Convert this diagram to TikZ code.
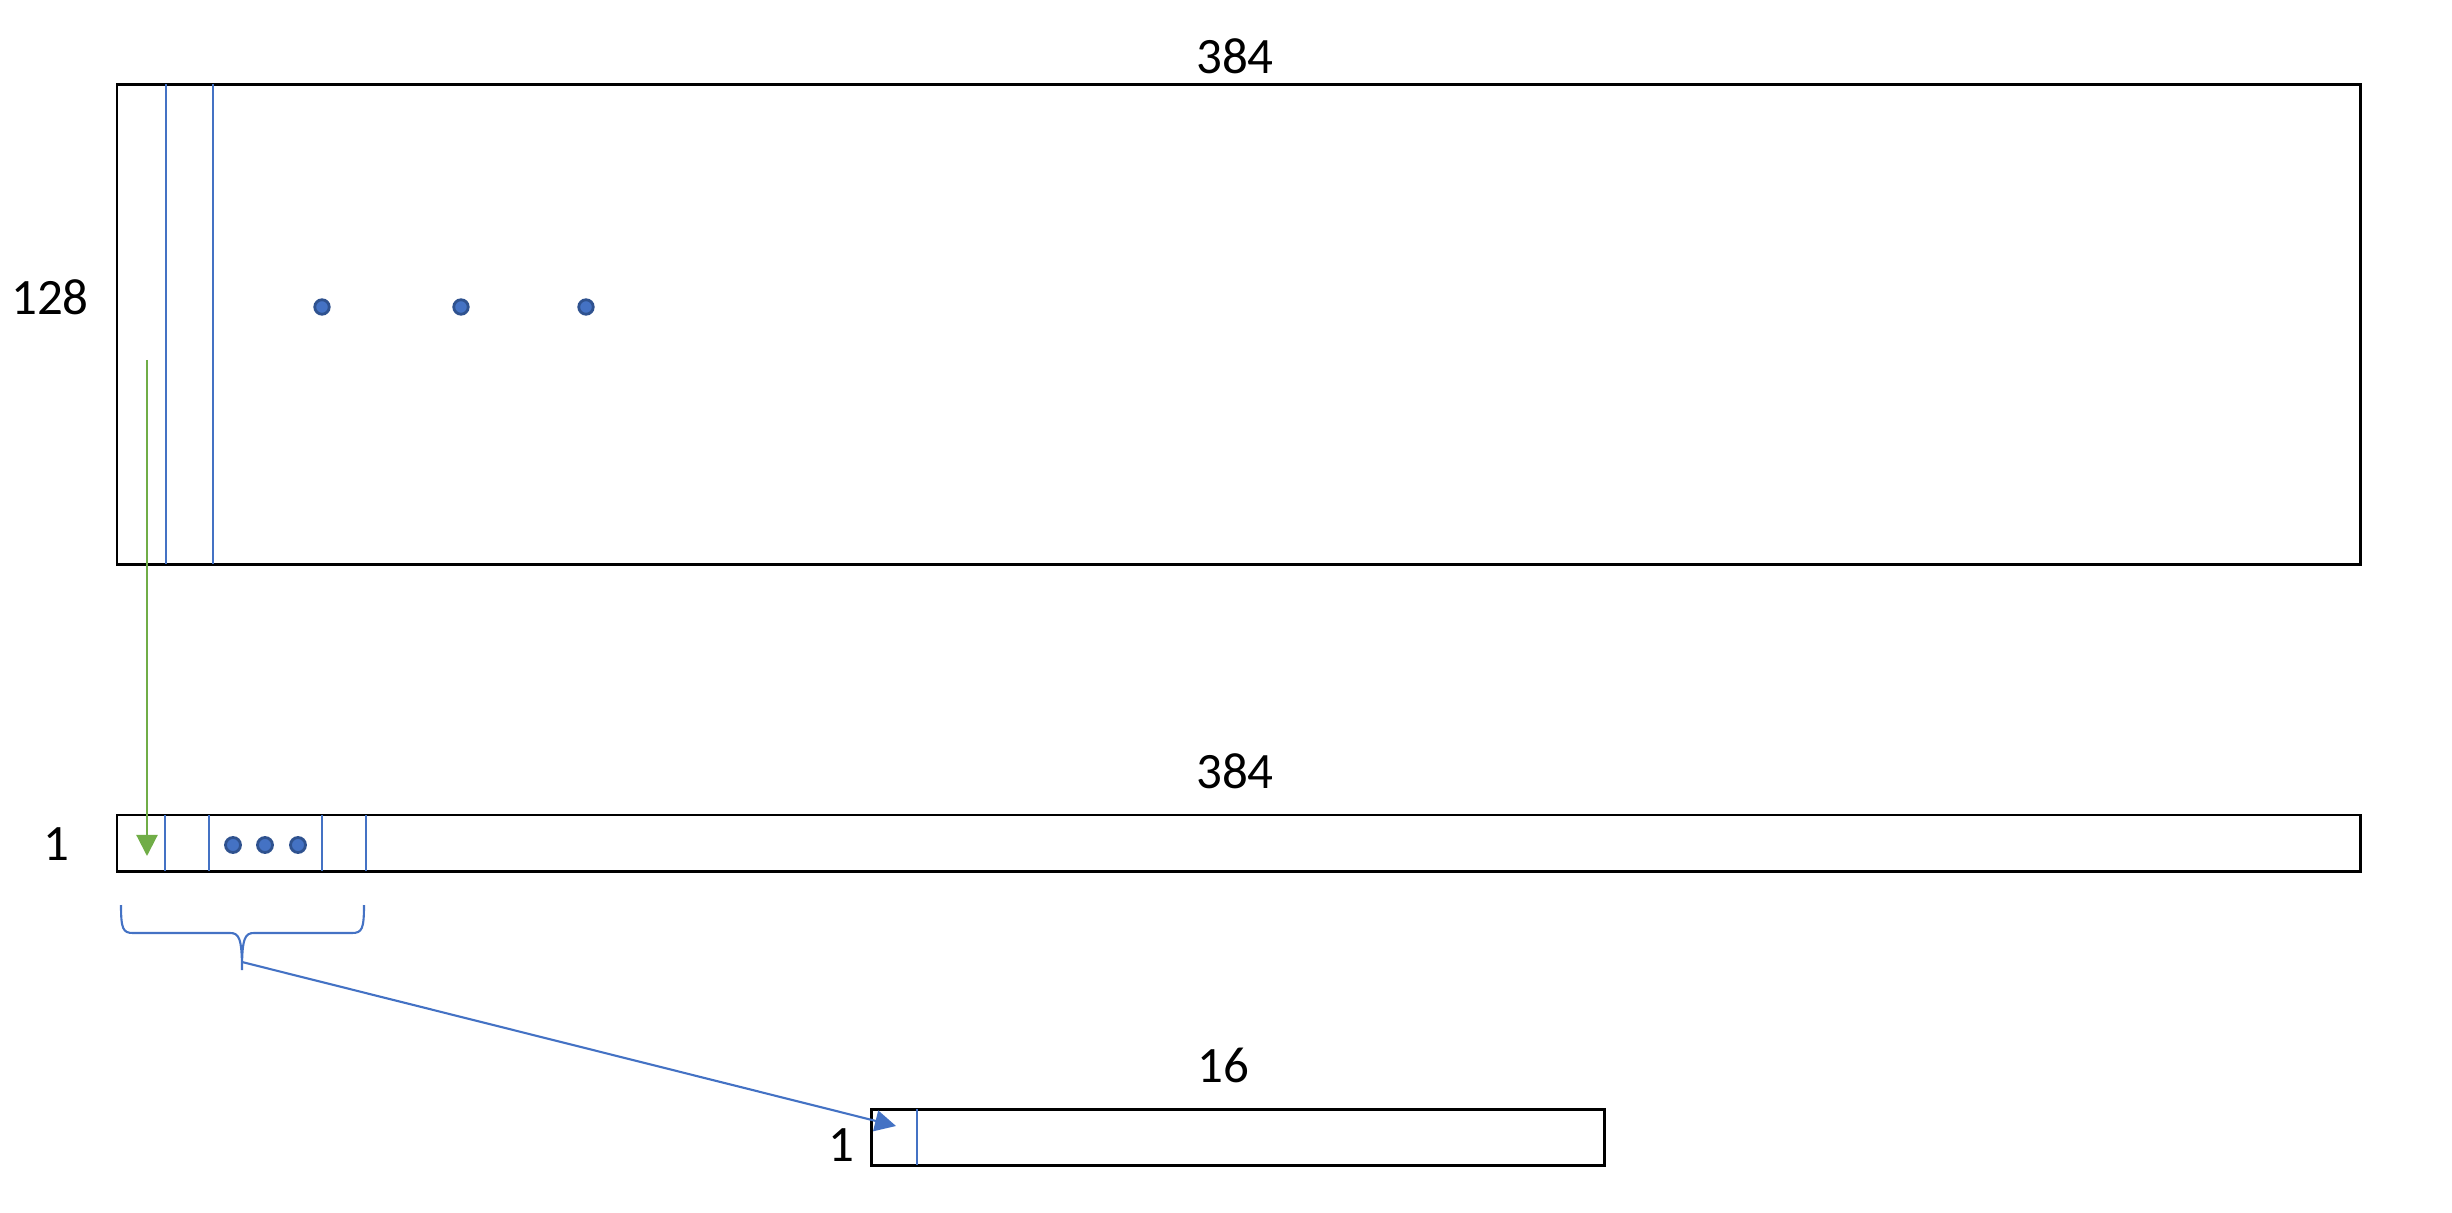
\documentclass[tikz,border=0pt]{standalone}
\usepackage{fontspec}
\setmainfont{Carlito}
\usetikzlibrary{arrows.meta}
\definecolor{cellblue}{HTML}{4472C4}
\definecolor{dotedge}{HTML}{2F528F}
\definecolor{flowgreen}{HTML}{70AD47}

\begin{document}
\begin{tikzpicture}[
    x=0.01cm, y=-0.01cm,
    box/.style={draw=black, line width=0.85pt, inner sep=0pt, outer sep=0pt, anchor=north west},
    cell/.style={draw=cellblue, line width=0.6pt},
    dot/.style={circle, fill=cellblue, draw=dotedge, line width=0.8pt, inner sep=0pt, minimum size=#1},
    dot/.default=0.145cm,
    lbl/.style={font=\fontsize{14.5}{17}\selectfont, inner sep=0pt},
    flow/.style={draw=#1, line width=0.6pt, -{Triangle[width=0.21cm,length=0.21cm]}},
]
  \useasboundingbox (0,0) rectangle (2452,1213);

  % 128 x 384 矩阵
  \node[box, minimum width=22.425cm, minimum height=4.80cm] (mat) at (117,84.5) {};
  \node[lbl] (matW) at (1235,56) {384};
  \node[lbl] (matH) at (50,297) {128};
  \foreach \x in {166,213} \draw[cell] (\x,84.5) -- (\x,564.5);
  \foreach \x in {322,461,586} \node[dot] at (\x,307) {};

  % 1 x 384 向量
  \node[box, minimum width=22.425cm, minimum height=0.56cm] (row) at (117,815) {};
  \node[lbl] (rowW) at (1235,771) {384};
  \node[lbl] (rowH) at (56,844) {1};
  \foreach \x in {165,209,322,366} \draw[cell] (\x,815) -- (\x,871);
  \foreach \x in {233,265,298} \node[dot=0.15cm] at (\x,845) {};

  % 列 -> 元素
  \coordinate (colsrc) at (147,360);
  \coordinate (coldst) at (147,856);
  \draw[flow=flowgreen] (colsrc) -- (coldst);

  % 花括号
  \draw[cell] (121,905) .. controls (121,929) and (123,933) .. (133,933) -- (230,933)
    .. controls (239,933) and (242,938) .. (242,970)
    .. controls (242,938) and (245,933) .. (254,933) -- (352,933)
    .. controls (362,933) and (364,929) .. (364,905);

  % 1 x 16 向量
  \node[box, minimum width=7.335cm, minimum height=0.56cm] (out) at (871,1109) {};
  \node[lbl] (outW) at (1223,1065) {16};
  \node[lbl] (outH) at (841,1145) {1};
  \draw[cell] (917,1109) -- (917,1165);

  \coordinate (bracetip) at (242,962);
  \coordinate (outdst) at (896,1126);
  \draw[flow=cellblue] (bracetip) -- (outdst);

\end{tikzpicture}
\end{document}
